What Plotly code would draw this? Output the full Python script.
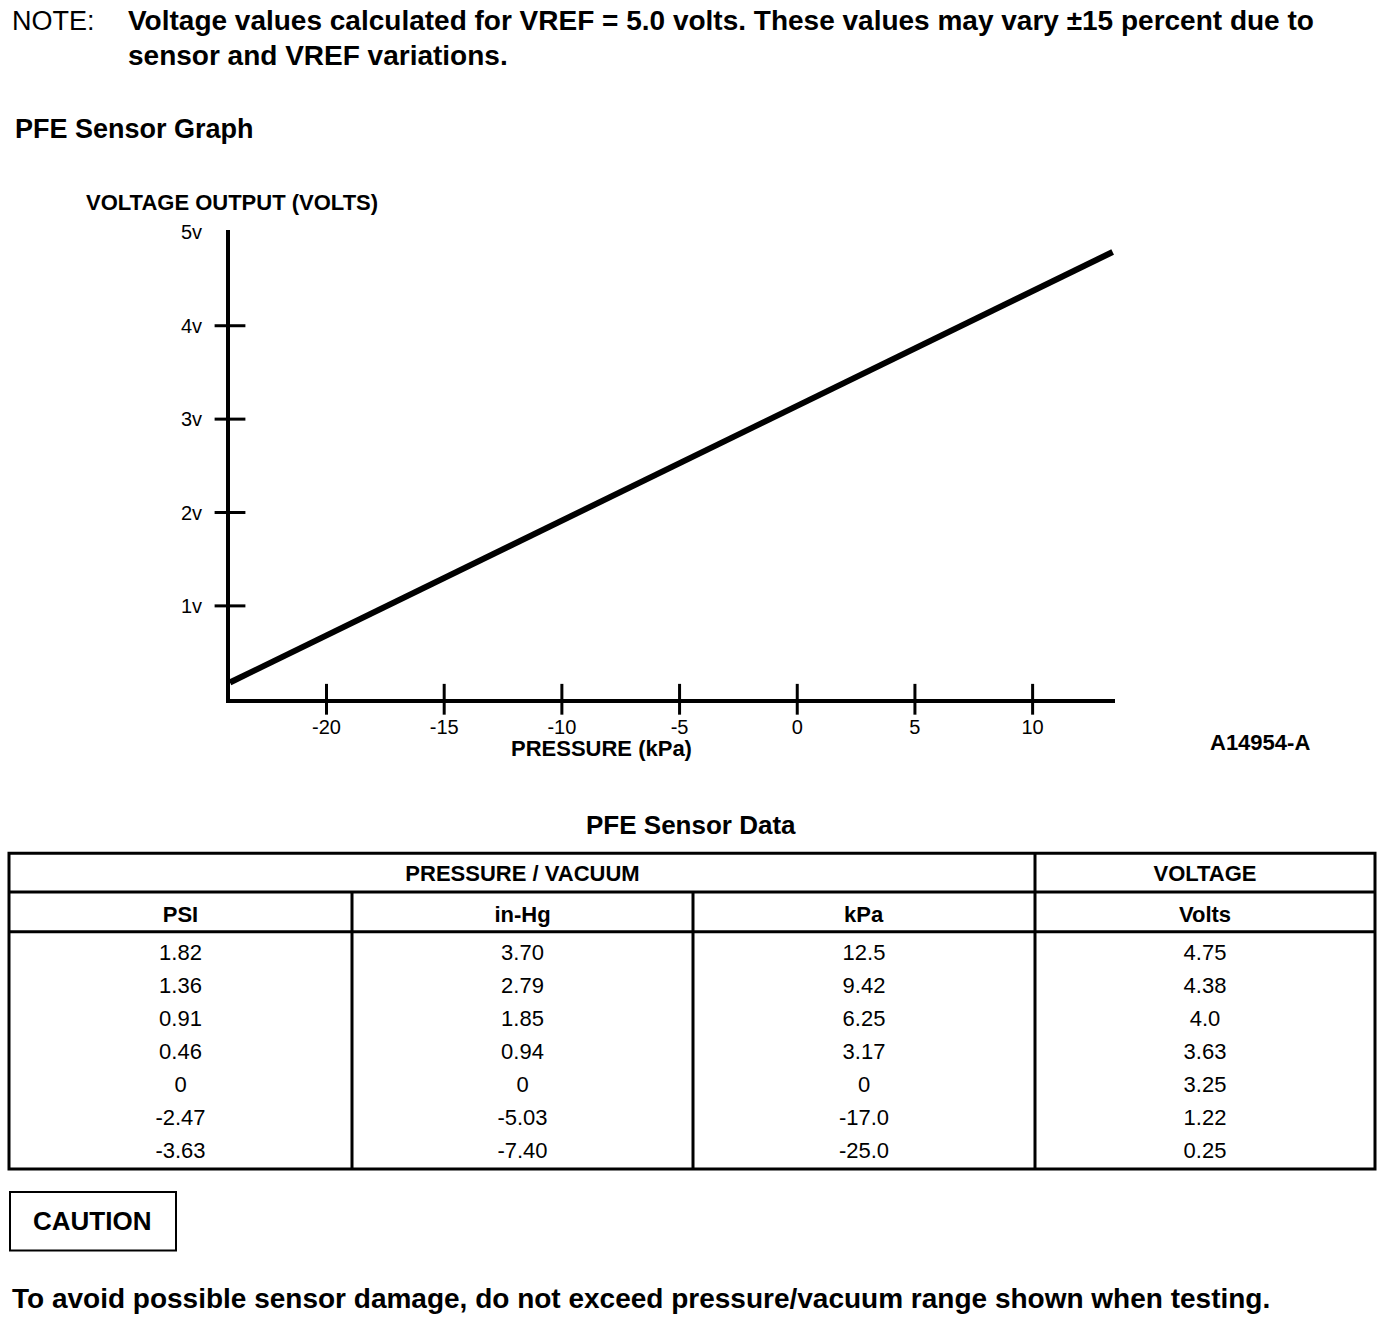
import plotly.graph_objects as go

W, H = 1392, 1322

# ---- data ----
line_kpa = [-24.1, 13.4]
line_volts = [0.18, 4.79]
x_tick_vals = [-20, -15, -10, -5, 0, 5, 10]
x_tick_text = ["-20", "-15", "-10", "-5", "0", "5", "10"]
y_tick_vals = [1, 2, 3, 4, 5]
y_tick_text = ["1v", "2v", "3v", "4v", "5v"]
y_cross_vals = [1, 2, 3, 4]

psi = ["1.82", "1.36", "0.91", "0.46", "0", "-2.47", "-3.63"]
in_hg = ["3.70", "2.79", "1.85", "0.94", "0", "-5.03", "-7.40"]
kpa = ["12.5", "9.42", "6.25", "3.17", "0", "-17.0", "-25.0"]
volts = ["4.75", "4.38", "4.0", "3.63", "3.25", "1.22", "0.25"]

X_MIN, X_MAX = -24.1, 13.5
Y_MIN, Y_MAX = 0, 5.02

FONT = "Liberation Sans, Arial, Helvetica, sans-serif"


def px(x):
    return x / W


def py(y):
    return 1 - y / H


fig = go.Figure()

fig.add_trace(go.Scatter(
    x=line_kpa, y=line_volts, mode="lines",
    line=dict(color="black", width=6), cliponaxis=False, showlegend=False,
    hoverinfo="skip"))

fig.add_trace(go.Scatter(
    x=x_tick_vals, y=[0] * len(x_tick_vals), mode="markers",
    marker=dict(symbol="line-ns", size=22, line=dict(width=3, color="black")),
    cliponaxis=False, showlegend=False, hoverinfo="skip"))

fig.add_trace(go.Scatter(
    x=[X_MIN] * len(y_cross_vals), y=y_cross_vals, mode="markers",
    marker=dict(symbol="line-ew", size=22, line=dict(width=3, color="black")),
    cliponaxis=False, showlegend=False, hoverinfo="skip"))

# ---- table text ----
header_vals = [["", "<b>PSI</b>"], ["<b>PRESSURE / VACUUM</b>", "<b>in-Hg</b>"],
               ["", "<b>kPa</b>"], ["<b>VOLTAGE</b>", "<b>Volts</b>"]]
fig.add_trace(go.Table(
    domain=dict(x=[px(9), px(1375)], y=[py(1168), py(850)]),
    columnwidth=[343, 341, 342, 340],
    header=dict(values=header_vals, height=38, align="center",
                font=dict(family=FONT, size=22, color="black"),
                fill=dict(color="rgba(0,0,0,0)"),
                line=dict(color="rgba(0,0,0,0)", width=0)),
    cells=dict(values=[psi, in_hg, kpa, volts], height=33, align="center",
               font=dict(family=FONT, size=22, color="black"),
               fill=dict(color="rgba(0,0,0,0)"),
               line=dict(color="rgba(0,0,0,0)", width=0)),
))

# ---- grid lines ----
shapes = []


def hline(x0, x1, y, w=3):
    shapes.append(dict(type="line", xref="paper", yref="paper", x0=px(x0), x1=px(x1),
                       y0=py(y), y1=py(y), line=dict(color="black", width=w), layer="above"))


def vline(x, y0, y1, w=3):
    shapes.append(dict(type="line", xref="paper", yref="paper", x0=px(x), x1=px(x),
                       y0=py(y0), y1=py(y1), line=dict(color="black", width=w), layer="above"))


shapes.append(dict(type="rect", xref="paper", yref="paper", x0=px(9), x1=px(1375),
                   y0=py(1168), y1=py(850), line=dict(color="black", width=3), layer="above"))
hline(9, 1375, 889)
hline(9, 1375, 929)
vline(1035, 850, 1168)
vline(352, 889, 1168)
vline(693, 889, 1168)
shapes.append(dict(type="rect", xref="paper", yref="paper", x0=px(10), x1=px(176),
                   y0=py(1250), y1=py(1191), line=dict(color="black", width=2), layer="above"))

# ---- annotations ----
ann = []


def text(t, x, y, size, bold=False, xanchor="left"):
    ann.append(dict(text=("<b>%s</b>" % t) if bold else t, x=px(x), y=py(y), xref="paper",
                    yref="paper", xanchor=xanchor, yanchor="middle", showarrow=False,
                    font=dict(family=FONT, size=size, color="black")))


text("NOTE:", 10, 12, 27)
text("Voltage values calculated for VREF = 5.0 volts. These values may vary \u00b115 percent due to",
     126, 12, 28, bold=True)
text("sensor and VREF variations.", 126, 47, 28, bold=True)
text("PFE Sensor Graph", 13, 121, 27, bold=True)
text("VOLTAGE OUTPUT (VOLTS)", 84, 195, 22, bold=True)
text("PRESSURE (kPa)", 601, 745, 22, bold=True, xanchor="center")
text("A14954-A", 1260, 739, 22, bold=True, xanchor="center")
text("PFE Sensor Data", 691, 822, 26, bold=True, xanchor="center")
text("CAUTION", 92, 1220, 26, bold=True, xanchor="center")
text("To avoid possible sensor damage, do not exceed pressure/vacuum range shown when testing.",
     10, 1298, 28, bold=True)

fig.update_layout(
    width=W, height=H, margin=dict(l=0, r=0, t=0, b=0),
    paper_bgcolor="white", plot_bgcolor="white",
    showlegend=False, shapes=shapes, annotations=ann,
    font=dict(family=FONT, color="black"),
    xaxis=dict(domain=[px(230), px(1115)], range=[X_MIN, X_MAX], showgrid=False,
               zeroline=False, showline=True, linecolor="black", linewidth=4,
               tickvals=x_tick_vals, ticktext=x_tick_text, ticks="outside", ticklen=7,
               tickcolor="rgba(0,0,0,0)", tickfont=dict(family=FONT, size=20, color="black")),
    yaxis=dict(domain=[py(695), py(223)], range=[Y_MIN, Y_MAX], showgrid=False,
               zeroline=False, showline=True, linecolor="black", linewidth=4,
               tickvals=y_tick_vals, ticktext=y_tick_text, ticks="outside", ticklen=20,
               tickcolor="rgba(0,0,0,0)", tickfont=dict(family=FONT, size=20, color="black")),
)

fig.write_html("out.html", config={"displayModeBar": False},
               post_script="document.body.style.margin='0';document.body.style.overflow='hidden';")
